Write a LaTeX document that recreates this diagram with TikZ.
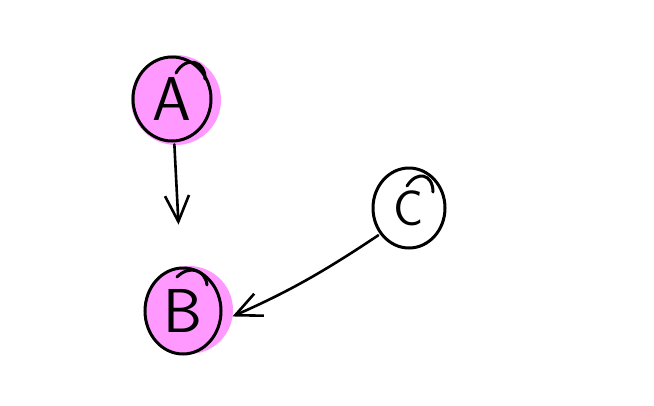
\documentclass[tikz,border=0pt]{standalone}
\usetikzlibrary{arrows.meta,shapes.geometric,calc}

\definecolor{blobpink}{HTML}{FF99FF}
\tikzset{
  letter/.style={ellipse, draw, line width=3pt, inner sep=0pt,
    font=\sffamily\fontsize{62}{62}\selectfont},
  blob/.style={fill=blobpink},
  pen/.style={line width=3pt, line cap=round},
  link/.style={line width=2.6pt, line cap=round,
    -{Straight Barb[length=26pt,width=24pt,line width=2.6pt]}}
}

\begin{document}
\begin{tikzpicture}[x=1pt,y=-1pt]
    \useasboundingbox (0,0) rectangle (654,405);

    % pink blobs behind A and B
    \fill[blob] (176,100) circle (45);
    \fill[blob] (189,310) circle (44);

    \node[letter, minimum width=78pt, minimum height=84pt] (A) at (172,99) {A};
    \node[letter, minimum width=76pt, minimum height=86pt] (B) at (183,311) {B};
    \node[letter, minimum width=72pt, minimum height=80pt,
      font=\sffamily\fontsize{50}{50}\selectfont] (C) at (409,208) {C};

    % overlapping pen strokes
    \draw[pen] ($(A)+(4,-26)$) .. controls ($(A)+(14,-44)$) and ($(A)+(34,-38)$) .. ($(A)+(33,-20)$);
    \draw[pen] ($(B)+(-6,-34)$) .. controls ($(B)+(6,-46)$) and ($(B)+(22,-42)$) .. ($(B)+(24,-26)$);
    \draw[pen] ($(C)+(-2,-22)$) .. controls ($(C)+(8,-38)$) and ($(C)+(24,-34)$) .. ($(C)+(24,-16)$);

    \draw[link, shorten <=2pt, shorten >=42pt] (A) -- (B);
    \draw[link, shorten <=2pt, shorten >=12pt] (C.222) to[bend left=5] (B.-15);
\end{tikzpicture}
\end{document}
